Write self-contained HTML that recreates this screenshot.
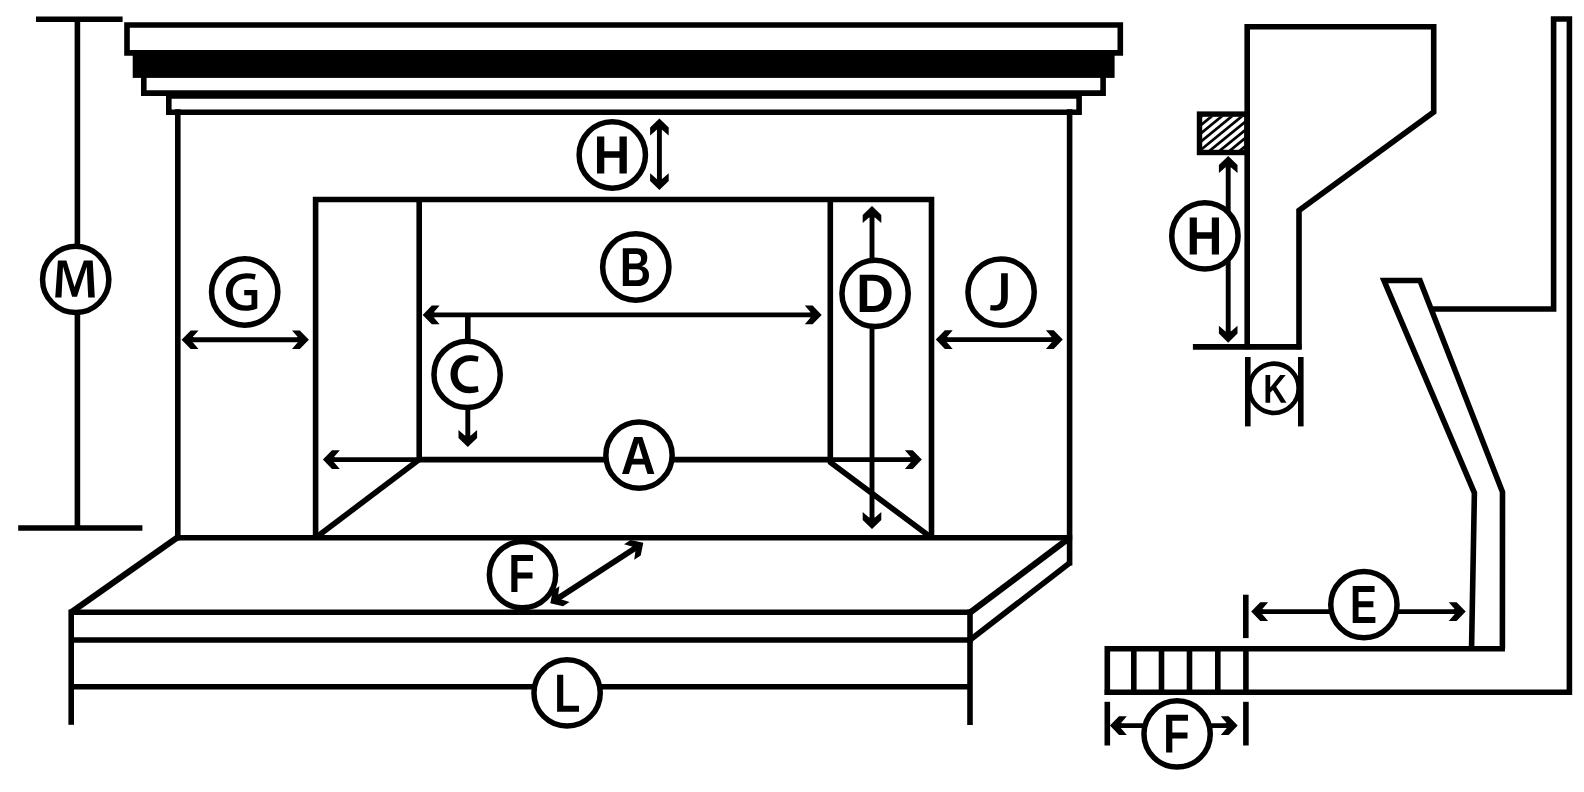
<!DOCTYPE html>
<html><head><meta charset="utf-8"><style>
html,body{margin:0;padding:0;background:#fff;width:1584px;height:792px;overflow:hidden;font-family:"Liberation Sans",sans-serif;}
svg{display:block}
</style></head><body>
<svg width="1584" height="792" viewBox="0 0 1584 792" stroke="#000" fill="none">
<rect x="0" y="0" width="1584" height="792" fill="#fff" stroke="none"/>
<line x1="36" y1="19.3" x2="122.6" y2="19.3" stroke-width="5.6" stroke-linecap="butt"/>
<line x1="77.4" y1="19.3" x2="77.4" y2="528" stroke-width="5.6" stroke-linecap="butt"/>
<line x1="18.2" y1="528" x2="142.4" y2="528" stroke-width="5.6" stroke-linecap="butt"/>
<circle cx="75.7" cy="279.4" r="33.15" fill="#fff" stroke-width="5.5"/>
<path d="M57.9,260.5 L66.4,260.5 L74.5,287.1 L83.9,260.5 L92.7,260.5 L94.8,297.4 L88.2,297.4 L86.7,266.8 L77,296.8 L72.1,296.8 L63,266.5 L61.5,297.4 L55.2,297.4 Z" fill="#000" stroke="none"/>
<polygon points="127,25.0 1120.3,25.0 1120.3,52.9 127,52.9" fill="none" stroke-width="5.6" stroke-linejoin="miter"/>
<rect x="132.7" y="50.2" width="981.8999999999999" height="27.700000000000003" fill="#000" stroke="none"/>
<polyline points="143.8,76 143.8,93.1 1103.1,93.1 1103.1,76" fill="none" stroke-width="5.6" stroke-linejoin="miter"/>
<polygon points="168.8,96 1079.1,96 1079.1,112.3 168.8,112.3" fill="none" stroke-width="5.6" stroke-linejoin="miter"/>
<line x1="177.8" y1="109.3" x2="177.8" y2="540.3" stroke-width="5.6" stroke-linecap="butt"/>
<line x1="1069.6" y1="109.3" x2="1069.6" y2="565.6" stroke-width="5.6" stroke-linecap="butt"/>
<line x1="659.4" y1="124.5" x2="659.4" y2="184.1" stroke-width="4.9" stroke-linecap="butt"/>
<polygon points="659.4,118.5 650.1,127.6 650.1,135.4 657.0,129.4 657.0,130.5 661.8,130.5 661.8,129.4 668.7,135.4 668.7,127.6" fill="#000" stroke="none"/>
<polygon points="659.4,190.1 668.7,181.0 668.7,173.2 661.8,179.2 661.8,178.1 657.0,178.1 657.0,179.2 650.1,173.2 650.1,181.0" fill="#000" stroke="none"/>
<circle cx="612.3" cy="155" r="33.15" fill="#fff" stroke-width="5.5"/>
<path transform="matrix(0.024751 0 0 -0.026402 593.609 173.600)" d="M1046 0V604H432V0H137V1409H432V848H1046V1409H1341V0Z" fill="#000" stroke="none"/>
<polyline points="315.6,537.7 315.6,199.5 931.5,199.5 931.5,537.7" fill="none" stroke-width="5.6" stroke-linejoin="miter"/>
<line x1="419.2" y1="199.5" x2="419.2" y2="460" stroke-width="5.6" stroke-linecap="butt"/>
<line x1="419.2" y1="459.6" x2="830.3" y2="459.6" stroke-width="5.6" stroke-linecap="butt"/>
<line x1="419.2" y1="459.6" x2="315.6" y2="537.7" stroke-width="5.6" stroke-linecap="butt"/>
<polyline points="830.3,199.5 830.3,462.3 931.5,537.7" fill="none" stroke-width="5.6" stroke-linejoin="round"/>
<line x1="187.6" y1="339.7" x2="302.9" y2="339.7" stroke-width="4.9" stroke-linecap="butt"/>
<polygon points="181.6,339.7 190.7,349.0 198.5,349.0 192.5,342.1 193.6,342.1 193.6,337.3 192.5,337.3 198.5,330.4 190.7,330.4" fill="#000" stroke="none"/>
<polygon points="308.9,339.7 299.8,330.4 292.0,330.4 298.0,337.3 296.9,337.3 296.9,342.1 298.0,342.1 292.0,349.0 299.8,349.0" fill="#000" stroke="none"/>
<circle cx="244.7" cy="292" r="33.15" fill="#fff" stroke-width="5.5"/>
<path d="M255.8,274.2 C252.5,273.5 249.5,273.2 246.5,273.2 C234,273.2 225.8,281.5 225.8,292.3 C225.8,303.5 233.5,310.8 245.5,310.8 C250,310.8 254.5,309.8 257.3,308.5 L257.3,290.1 L244.2,290.1 L244.2,295.3 L251.5,295.3 L251.5,304.5 C250,305.2 248,305.6 246,305.6 C237.5,305.6 232.7,300 232.7,292 C232.7,283.5 238.5,278.6 246.8,278.6 C250,278.6 252.5,279.1 254.6,279.7 Z" fill="#000" stroke="none"/>
<line x1="428.7" y1="314.9" x2="815.7" y2="314.9" stroke-width="4.9" stroke-linecap="butt"/>
<polygon points="422.7,314.9 431.8,324.2 439.6,324.2 433.6,317.3 434.7,317.3 434.7,312.5 433.6,312.5 439.6,305.6 431.8,305.6" fill="#000" stroke="none"/>
<polygon points="821.7,314.9 812.6,305.6 804.8,305.6 810.8,312.5 809.7,312.5 809.7,317.3 810.8,317.3 804.8,324.2 812.6,324.2" fill="#000" stroke="none"/>
<circle cx="635.8" cy="267" r="33.15" fill="#fff" stroke-width="5.5"/>
<path transform="matrix(0.020977 0 0 -0.026899 619.926 286.100)" d="M1386 402Q1386 210 1242.0 105.0Q1098 0 842 0H137V1409H782Q1040 1409 1172.5 1319.5Q1305 1230 1305 1055Q1305 935 1238.5 852.5Q1172 770 1036 741Q1207 721 1296.5 633.5Q1386 546 1386 402ZM1008 1015Q1008 1110 947.5 1150.0Q887 1190 768 1190H432V841H770Q895 841 951.5 884.5Q1008 928 1008 1015ZM1090 425Q1090 623 806 623H432V219H817Q959 219 1024.5 270.5Q1090 322 1090 425Z" fill="#000" stroke="none"/>
<line x1="467.8" y1="314.9" x2="467.8" y2="340" stroke-width="5.6" stroke-linecap="butt"/>
<line x1="467.8" y1="400" x2="467.8" y2="441.0" stroke-width="4.9" stroke-linecap="butt"/>
<polygon points="467.8,447.0 477.1,437.9 477.1,430.1 470.2,436.1 470.2,435.0 465.4,435.0 465.4,436.1 458.5,430.1 458.5,437.9" fill="#000" stroke="none"/>
<circle cx="467.1" cy="374.4" r="33.15" fill="#fff" stroke-width="5.5"/>
<path d="M478.6,356.6 C475,355.6 472,355.3 469.5,355.3 C458.5,355.3 450.5,363 450.5,374.2 C450.5,385.8 458.5,393.2 469.5,393.2 C472.5,393.2 476,392.7 478.6,391.8 L477.8,386 C475.5,386.5 473,386.8 470.5,386.8 C462.5,386.8 457.7,381.5 457.7,374.2 C457.7,366.5 462.5,360.9 470.5,360.9 C473,360.9 475.5,361.3 477.8,361.8 Z" fill="#000" stroke="none"/>
<line x1="328.9" y1="459.6" x2="915.8" y2="459.6" stroke-width="4.9" stroke-linecap="butt"/>
<polygon points="322.9,459.6 332.0,468.9 339.8,468.9 333.8,462.0 334.9,462.0 334.9,457.2 333.8,457.2 339.8,450.3 332.0,450.3" fill="#000" stroke="none"/>
<polygon points="921.8,459.6 912.7,450.3 904.9,450.3 910.9,457.2 909.8,457.2 909.8,462.0 910.9,462.0 904.9,468.9 912.7,468.9" fill="#000" stroke="none"/>
<circle cx="639" cy="455.2" r="33.15" fill="#fff" stroke-width="5.5"/>
<path transform="matrix(0.023581 0 0 -0.026260 620.797 474.000)" d="M1133 0 1008 360H471L346 0H51L565 1409H913L1425 0ZM739 1192 733 1170Q723 1134 709.0 1088.0Q695 1042 537 582H942L803 987L760 1123Z" fill="#000" stroke="none"/>
<line x1="872.0" y1="212.0" x2="872.0" y2="523.0" stroke-width="4.9" stroke-linecap="butt"/>
<polygon points="872.0,206.0 862.7,215.1 862.7,222.9 869.6,216.9 869.6,218.0 874.4,218.0 874.4,216.9 881.3,222.9 881.3,215.1" fill="#000" stroke="none"/>
<polygon points="872.0,529.0 881.3,519.9 881.3,512.1 874.4,518.1 874.4,517.0 869.6,517.0 869.6,518.1 862.7,512.1 862.7,519.9" fill="#000" stroke="none"/>
<circle cx="875.1" cy="293.4" r="33.15" fill="#fff" stroke-width="5.5"/>
<path transform="matrix(0.025398 0 0 -0.026544 856.220 312.100)" d="M1393 715Q1393 497 1307.5 334.5Q1222 172 1065.5 86.0Q909 0 707 0H137V1409H647Q1003 1409 1198.0 1229.5Q1393 1050 1393 715ZM1096 715Q1096 942 978.0 1061.5Q860 1181 641 1181H432V228H682Q872 228 984.0 359.0Q1096 490 1096 715Z" fill="#000" stroke="none"/>
<line x1="941.8" y1="339.6" x2="1056.8" y2="339.6" stroke-width="4.9" stroke-linecap="butt"/>
<polygon points="935.8,339.6 944.9,348.9 952.7,348.9 946.7,342.0 947.8,342.0 947.8,337.2 946.7,337.2 952.7,330.3 944.9,330.3" fill="#000" stroke="none"/>
<polygon points="1062.8,339.6 1053.7,330.3 1045.9,330.3 1051.9,337.2 1050.8,337.2 1050.8,342.0 1051.9,342.0 1045.9,348.9 1053.7,348.9" fill="#000" stroke="none"/>
<circle cx="1001.1" cy="292.2" r="33.15" fill="#fff" stroke-width="5.5"/>
<path d="M1001.1,273.2 L1007.8,273.2 L1007.8,297 C1007.8,306.5 1003,310.8 995,310.8 C993.3,310.8 991.5,310.6 990.1,310.3 L990.6,304.9 C991.8,305.2 993,305.3 994.3,305.3 C998.8,305.3 1001.1,303.3 1001.1,297 Z" fill="#000" stroke="none"/>
<line x1="175.2" y1="537.7" x2="1072.2" y2="537.7" stroke-width="5.6" stroke-linecap="butt"/>
<line x1="177" y1="537.7" x2="71.2" y2="612.2" stroke-width="6.2" stroke-linecap="butt"/>
<line x1="71.2" y1="612.2" x2="972.6" y2="612.2" stroke-width="5.6" stroke-linecap="butt"/>
<line x1="71.2" y1="640" x2="972.6" y2="640" stroke-width="5.6" stroke-linecap="butt"/>
<line x1="71.2" y1="609.6" x2="71.2" y2="724.8" stroke-width="5.6" stroke-linecap="butt"/>
<line x1="970" y1="609.6" x2="970" y2="725" stroke-width="5.6" stroke-linecap="butt"/>
<line x1="1068.6" y1="538.5" x2="970.5" y2="612.2" stroke-width="6.2" stroke-linecap="butt"/>
<line x1="1069.6" y1="563" x2="970" y2="640" stroke-width="5.6" stroke-linecap="butt"/>
<line x1="71.2" y1="686.8" x2="970" y2="686.8" stroke-width="5.6" stroke-linecap="butt"/>
<line x1="555.33" y1="600.03" x2="638.27" y2="546.07" stroke-width="5.8" stroke-linecap="butt"/>
<polygon points="550.3,603.3 563.0,606.13 569.54,601.88 560.75,599.37 561.67,598.77 559.05,594.74 558.13,595.34 559.39,586.29 552.86,590.54" fill="#000" stroke="none"/>
<polygon points="643.3,542.8 630.6,539.97 624.06,544.22 632.85,546.73 631.93,547.33 634.55,551.36 635.47,550.76 634.21,559.81 640.74,555.56" fill="#000" stroke="none"/>
<circle cx="522.5" cy="574.7" r="33.15" fill="#fff" stroke-width="5.5"/>
<path transform="matrix(0.020885 0 0 -0.026331 508.439 592.100)" d="M432 1181V745H1153V517H432V0H137V1409H1176V1181Z" fill="#000" stroke="none"/>
<circle cx="567.1" cy="692.9" r="33.15" fill="#fff" stroke-width="5.5"/>
<path transform="matrix(0.020837 0 0 -0.026331 554.245 711.800)" d="M137 0V1409H432V228H1188V0Z" fill="#000" stroke="none"/>
<polyline points="1247.2,349.3 1247.2,26.7 1433.7,26.7 1433.7,112 1299,210.5 1299,349.3" fill="none" stroke-width="5.6" stroke-linejoin="miter"/>
<line x1="1192.9" y1="346.9" x2="1301.6" y2="346.9" stroke-width="5.6" stroke-linecap="butt"/>
<defs><clipPath id="hc"><rect x="1201.7" y="116.5" width="43.3" height="33.4"/></clipPath></defs>
<g clip-path="url(#hc)"><line x1="1191.20" y1="83.90" x2="1091.20" y2="165.40" stroke-width="2.7"/><line x1="1201.25" y1="83.90" x2="1101.25" y2="165.40" stroke-width="2.7"/><line x1="1211.30" y1="83.90" x2="1111.30" y2="165.40" stroke-width="2.7"/><line x1="1221.35" y1="83.90" x2="1121.35" y2="165.40" stroke-width="2.7"/><line x1="1231.40" y1="83.90" x2="1131.40" y2="165.40" stroke-width="2.7"/><line x1="1241.45" y1="83.90" x2="1141.45" y2="165.40" stroke-width="2.7"/><line x1="1251.50" y1="83.90" x2="1151.50" y2="165.40" stroke-width="2.7"/><line x1="1261.55" y1="83.90" x2="1161.55" y2="165.40" stroke-width="2.7"/><line x1="1271.60" y1="83.90" x2="1171.60" y2="165.40" stroke-width="2.7"/><line x1="1281.65" y1="83.90" x2="1181.65" y2="165.40" stroke-width="2.7"/><line x1="1291.70" y1="83.90" x2="1191.70" y2="165.40" stroke-width="2.7"/><line x1="1301.75" y1="83.90" x2="1201.75" y2="165.40" stroke-width="2.7"/><line x1="1311.80" y1="83.90" x2="1211.80" y2="165.40" stroke-width="2.7"/><line x1="1321.85" y1="83.90" x2="1221.85" y2="165.40" stroke-width="2.7"/><line x1="1331.90" y1="83.90" x2="1231.90" y2="165.40" stroke-width="2.7"/><line x1="1341.95" y1="83.90" x2="1241.95" y2="165.40" stroke-width="2.7"/></g>
<rect x="1199.5" y="114.1" width="47.5" height="38.4" fill="none" stroke-width="5.4"/>
<line x1="1228.2" y1="162.0" x2="1228.2" y2="336.7" stroke-width="4.9" stroke-linecap="butt"/>
<polygon points="1228.2,156.0 1218.9,165.1 1218.9,172.9 1225.8,166.9 1225.8,168.0 1230.6,168.0 1230.6,166.9 1237.5,172.9 1237.5,165.1" fill="#000" stroke="none"/>
<polygon points="1228.2,342.7 1237.5,333.6 1237.5,325.8 1230.6,331.8 1230.6,330.7 1225.8,330.7 1225.8,331.8 1218.9,325.8 1218.9,333.6" fill="#000" stroke="none"/>
<circle cx="1204.9" cy="235.9" r="33.15" fill="#fff" stroke-width="5.5"/>
<path transform="matrix(0.024336 0 0 -0.026402 1186.366 254.600)" d="M1046 0V604H432V0H137V1409H432V848H1046V1409H1341V0Z" fill="#000" stroke="none"/>
<line x1="1247.8" y1="357" x2="1247.8" y2="426.4" stroke-width="5.6" stroke-linecap="butt"/>
<line x1="1300.8" y1="357" x2="1300.8" y2="426.4" stroke-width="5.6" stroke-linecap="butt"/>
<circle cx="1274" cy="388.3" r="24.65" fill="#fff" stroke-width="4.6"/>
<path transform="matrix(0.015873 0 0 -0.019730 1263.325 402.800)" d="M1112 0 606 647 432 514V0H137V1409H432V770L1067 1409H1411L809 813L1460 0Z" fill="#000" stroke="none"/>
<polyline points="1430,309 1553.6,309 1553.6,19 1569.4,19 1569.4,692.3 1104.7,692.3" fill="none" stroke-width="5.6" stroke-linejoin="miter"/>
<polyline points="1471.5,651 1474.4,492.9 1384,280.5 1420,280.5 1502.5,492 1502.4,648.6" fill="none" stroke-width="5.6" stroke-linejoin="miter"/>
<polyline points="1107.3,694.9 1107.3,648.7 1505,648.7" fill="none" stroke-width="5.6" stroke-linejoin="miter"/>
<line x1="1133.8" y1="648.7" x2="1133.8" y2="692.3" stroke-width="5.6" stroke-linecap="butt"/>
<line x1="1161.5" y1="648.7" x2="1161.5" y2="692.3" stroke-width="5.6" stroke-linecap="butt"/>
<line x1="1189.5" y1="648.7" x2="1189.5" y2="692.3" stroke-width="5.6" stroke-linecap="butt"/>
<line x1="1217.8" y1="648.7" x2="1217.8" y2="692.3" stroke-width="5.6" stroke-linecap="butt"/>
<line x1="1245.9" y1="648.7" x2="1245.9" y2="692.3" stroke-width="5.6" stroke-linecap="butt"/>
<line x1="1245.8" y1="594.7" x2="1245.8" y2="638.1" stroke-width="5.6" stroke-linecap="butt"/>
<line x1="1257.2" y1="611.6" x2="1459.7" y2="611.6" stroke-width="4.9" stroke-linecap="butt"/>
<polygon points="1251.2,611.6 1260.3,620.9 1268.1,620.9 1262.1,614.0 1263.2,614.0 1263.2,609.2 1262.1,609.2 1268.1,602.3 1260.3,602.3" fill="#000" stroke="none"/>
<polygon points="1465.7,611.6 1456.6,602.3 1448.8,602.3 1454.8,609.2 1453.7,609.2 1453.7,614.0 1454.8,614.0 1448.8,620.9 1456.6,620.9" fill="#000" stroke="none"/>
<circle cx="1363.9" cy="604.7" r="33.15" fill="#fff" stroke-width="5.5"/>
<path transform="matrix(0.019756 0 0 -0.026402 1349.993 623.100)" d="M137 0V1409H1245V1181H432V827H1184V599H432V228H1286V0Z" fill="#000" stroke="none"/>
<line x1="1107.3" y1="701.8" x2="1107.3" y2="745.5" stroke-width="5.6" stroke-linecap="butt"/>
<line x1="1245.9" y1="701.8" x2="1245.9" y2="745.5" stroke-width="5.6" stroke-linecap="butt"/>
<line x1="1115.9" y1="725.6" x2="1231.7" y2="725.6" stroke-width="4.9" stroke-linecap="butt"/>
<polygon points="1109.9,725.6 1119.0,734.9 1126.8,734.9 1120.8,728.0 1121.9,728.0 1121.9,723.2 1120.8,723.2 1126.8,716.3 1119.0,716.3" fill="#000" stroke="none"/>
<polygon points="1237.7,725.6 1228.6,716.3 1220.8,716.3 1226.8,723.2 1225.7,723.2 1225.7,728.0 1226.8,728.0 1220.8,734.9 1228.6,734.9" fill="#000" stroke="none"/>
<circle cx="1177.1" cy="733.9" r="33.15" fill="#fff" stroke-width="5.5"/>
<path transform="matrix(0.021078 0 0 -0.026757 1163.212 752.400)" d="M432 1181V745H1153V517H432V0H137V1409H1176V1181Z" fill="#000" stroke="none"/>
</svg>
</body></html>
